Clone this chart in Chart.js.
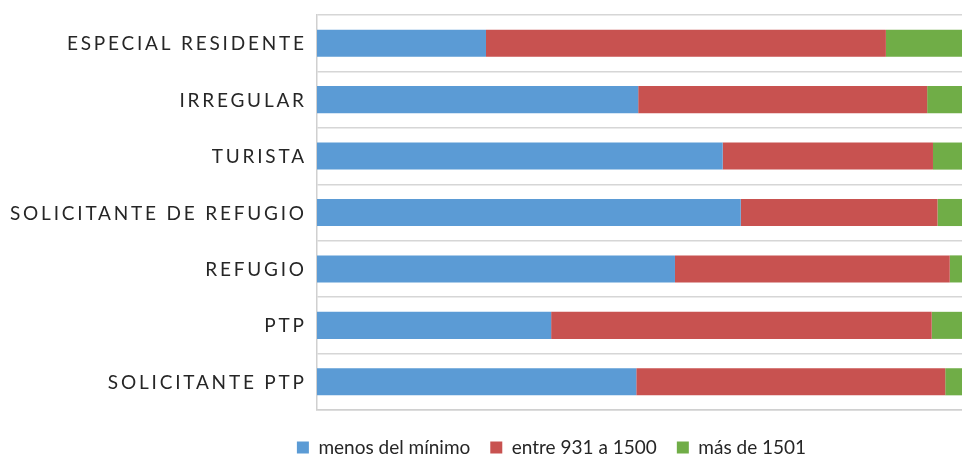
<!DOCTYPE html>
<html>
<head>
<meta charset="utf-8">
<script src="https://cdn.jsdelivr.net/npm/chart.js@4"></script>
<style>
  html, body { margin: 0; padding: 0; background: #fff; }
  #wrap { width: 962px; height: 456px; }
</style>
</head>
<body>
<div id="wrap"><canvas id="chart" width="962" height="456"></canvas></div>
<script>
// categorías (de arriba a abajo)
const categories = ['ESPECIAL RESIDENTE', 'IRREGULAR', 'TURISTA', 'SOLICITANTE DE REFUGIO', 'REFUGIO', 'PTP', 'SOLICITANTE PTP'];

// porcentajes por rango de ingreso
const menosDelMinimo = [26.2, 49.8, 62.9, 65.7, 55.5, 36.3, 49.5];
const entre931a1500 = [62.0, 44.8, 32.6, 30.5, 42.6, 59.0, 47.9];
const masDe1501 = [11.8, 5.4, 4.5, 3.8, 1.9, 4.7, 2.6];

const seriesNames = ['menos del mínimo', 'entre 931 a 1500', 'más de 1501'];

// etiquetas del eje con espaciado entre letras
const spacedLabels = {
    id: 'spacedLabels',
    afterDraw(chart) {
        const ctx = chart.ctx;
        const y = chart.scales.y;
        const ls = 2.8;
        ctx.save();
        ctx.font = '19px Lato';
        ctx.letterSpacing = ls + 'px';
        ctx.fillStyle = '#262626';
        ctx.textAlign = 'right';
        ctx.textBaseline = 'middle';
        categories.forEach((c, i) => {
            ctx.fillText(c, 304 + ls, y.getPixelForValue(i) + 1);
        });
        ctx.restore();
    }
};

new Chart(document.getElementById('chart'), {
    type: 'bar',
    data: {
        labels: categories,
        datasets: [
            { label: seriesNames[0], data: menosDelMinimo, backgroundColor: '#5B9BD5' },
            { label: seriesNames[1], data: entre931a1500, backgroundColor: '#C85250' },
            { label: seriesNames[2], data: masDe1501, backgroundColor: '#70AD47' }
        ]
    },
    options: {
        indexAxis: 'y',
        responsive: false,
        animation: false,
        layout: { padding: { top: 15, right: 0, left: 141, bottom: -11 } },
        datasets: {
            bar: { categoryPercentage: 1, barPercentage: 0.48 }
        },
        scales: {
            x: {
                stacked: true,
                min: 0,
                max: 100,
                ticks: { display: false },
                grid: { display: false },
                border: { display: true, color: '#d0d0d0', width: 1.5 }
            },
            y: {
                stacked: true,
                ticks: { display: false },
                grid: { offset: true, color: '#d6d6d6', lineWidth: 1.5, drawTicks: false },
                border: { display: true, color: '#d0d0d0', width: 1.5 },
                afterFit(scale) { scale.width = 176; }
            }
        },
        plugins: {
            legend: {
                position: 'bottom',
                labels: {
                    boxWidth: 12,
                    boxHeight: 12,
                    padding: 20,
                    color: '#262626',
                    font: { family: 'Lato', size: 19 }
                }
            },
            tooltip: { enabled: false }
        }
    },
    plugins: [spacedLabels]
});
</script>
</body>
</html>
